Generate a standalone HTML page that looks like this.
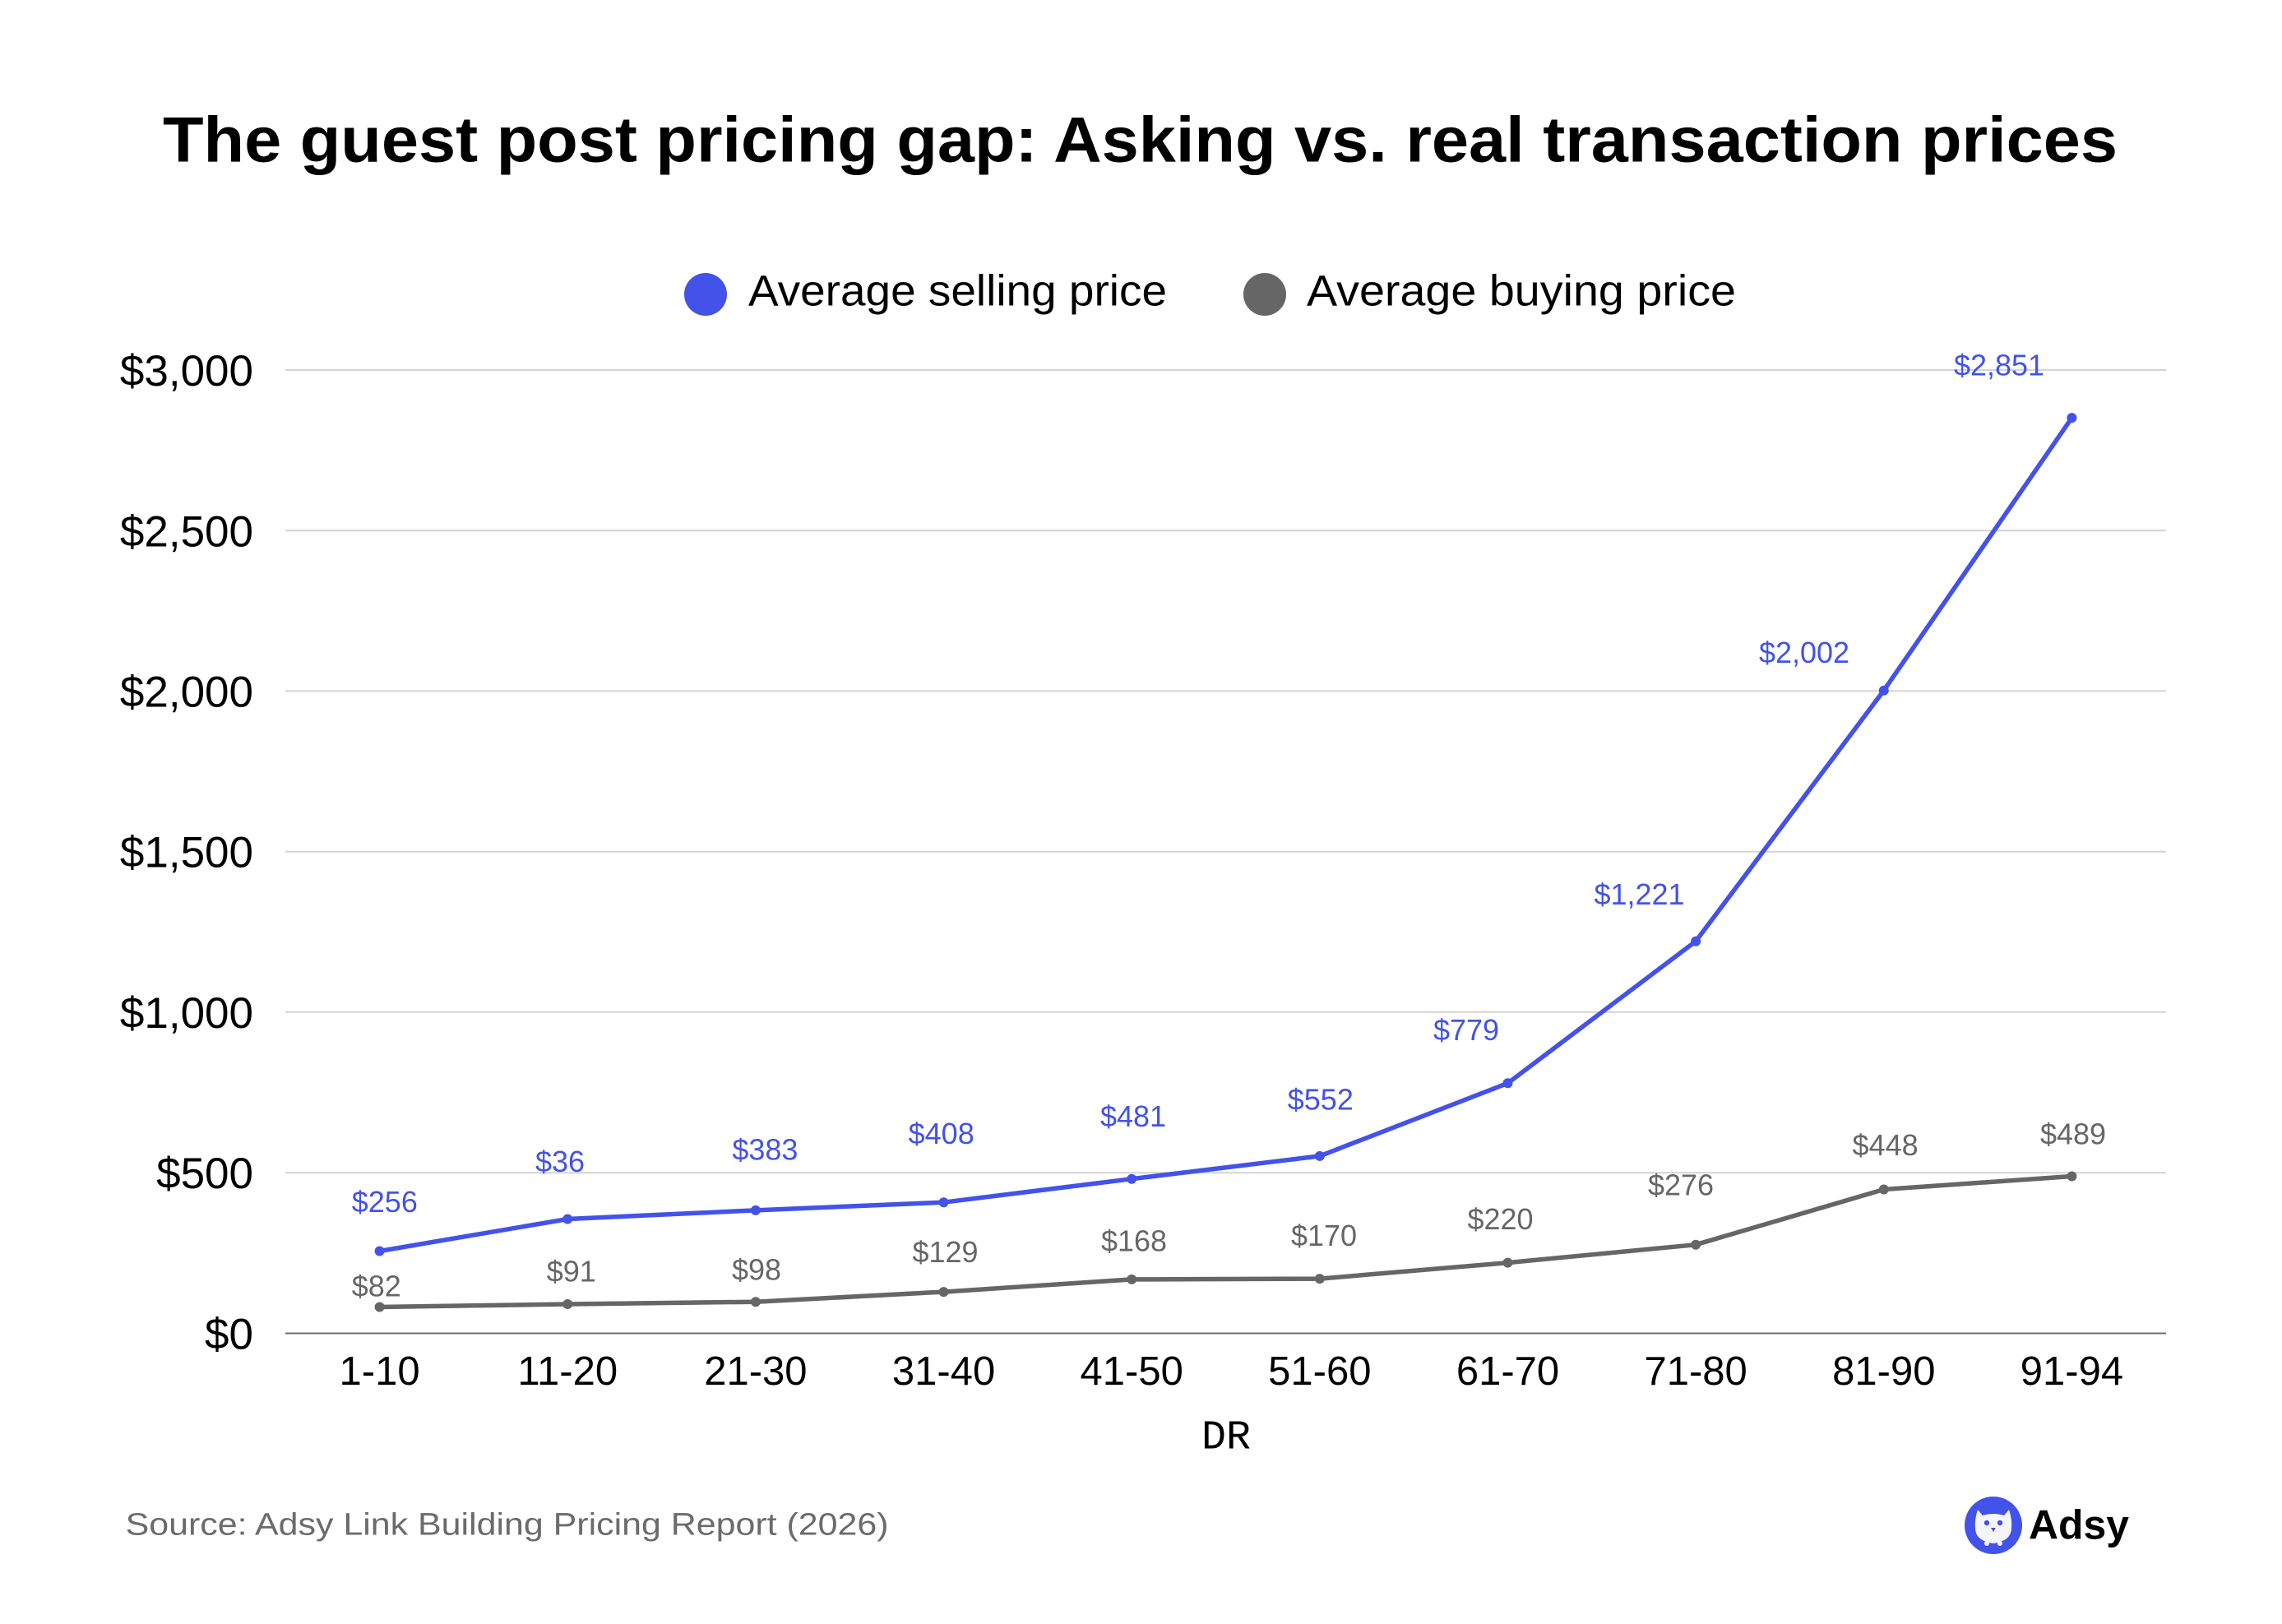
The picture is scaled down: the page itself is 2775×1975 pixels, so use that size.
<!DOCTYPE html>
<html>
<head>
<meta charset="utf-8">
<style>
html,body{margin:0;padding:0;background:#ffffff;}
svg{display:block;}
text{font-family:"Liberation Sans",sans-serif;}
</style>
</head>
<body>
<svg width="2775" height="1975" viewBox="0 0 2775 1975" xmlns="http://www.w3.org/2000/svg">
<rect x="0" y="0" width="2775" height="1975" fill="#ffffff"/>

<!-- Title -->
<text x="198" y="196.7" font-size="78" font-weight="bold" fill="#000" textLength="2377" lengthAdjust="spacingAndGlyphs">The guest post pricing gap: Asking vs. real transaction prices</text>

<!-- Legend -->
<circle cx="858" cy="358" r="26" fill="#4352E8"/>
<text x="910" y="371.7" font-size="53" fill="#000" textLength="509" lengthAdjust="spacingAndGlyphs">Average selling price</text>
<circle cx="1538" cy="358" r="26" fill="#666666"/>
<text x="1589" y="371.7" font-size="53" fill="#000" textLength="522" lengthAdjust="spacingAndGlyphs">Average buying price</text>

<!-- Gridlines -->
<g stroke="#d4d4d4" stroke-width="2">
<line x1="347" y1="450" x2="2634" y2="450"/>
<line x1="347" y1="645.3" x2="2634" y2="645.3"/>
<line x1="347" y1="840.4" x2="2634" y2="840.4"/>
<line x1="347" y1="1035.7" x2="2634" y2="1035.7"/>
<line x1="347" y1="1230.9" x2="2634" y2="1230.9"/>
<line x1="347" y1="1426.2" x2="2634" y2="1426.2"/>
</g>
<line x1="347" y1="1621.5" x2="2634" y2="1621.5" stroke="#6e6e6e" stroke-width="2"/>

<!-- Y axis labels -->
<g font-size="53" fill="#000" text-anchor="end">
<text x="308" y="469">$3,000</text>
<text x="308" y="664.3">$2,500</text>
<text x="308" y="859.4">$2,000</text>
<text x="308" y="1054.7">$1,500</text>
<text x="308" y="1249.9">$1,000</text>
<text x="308" y="1445.2">$500</text>
<text x="308" y="1640.5">$0</text>
</g>

<!-- X axis labels -->
<g font-size="49" fill="#000" text-anchor="middle">
<text x="461.6" y="1684">1-10</text>
<text x="690.25" y="1684">11-20</text>
<text x="918.9" y="1684">21-30</text>
<text x="1147.55" y="1684">31-40</text>
<text x="1376.2" y="1684">41-50</text>
<text x="1604.85" y="1684">51-60</text>
<text x="1833.5" y="1684">61-70</text>
<text x="2062.15" y="1684">71-80</text>
<text x="2290.8" y="1684">81-90</text>
<text x="2519.45" y="1684">91-94</text>
</g>
<text x="1491" y="1761.7" font-size="50" fill="#000" text-anchor="middle" style="font-family:'Liberation Mono',monospace">DR</text>

<!-- Buying line -->
<polyline fill="none" stroke="#666666" stroke-width="5.5" stroke-linejoin="round" stroke-linecap="round"
points="461.6,1589.5 690.25,1586 918.9,1583.2 1147.55,1571.1 1376.2,1555.9 1604.85,1555.1 1833.5,1535.6 2062.15,1513.7 2290.8,1446.5 2519.45,1430.5"/>
<g fill="#666666">
<circle cx="461.6" cy="1589.5" r="6"/>
<circle cx="690.25" cy="1586" r="6"/>
<circle cx="918.9" cy="1583.2" r="6"/>
<circle cx="1147.55" cy="1571.1" r="6"/>
<circle cx="1376.2" cy="1555.9" r="6"/>
<circle cx="1604.85" cy="1555.1" r="6"/>
<circle cx="1833.5" cy="1535.6" r="6"/>
<circle cx="2062.15" cy="1513.7" r="6"/>
<circle cx="2290.8" cy="1446.5" r="6"/>
<circle cx="2519.45" cy="1430.5" r="6"/>
</g>

<!-- Selling line -->
<polyline fill="none" stroke="#4352E8" stroke-width="5.5" stroke-linejoin="round" stroke-linecap="round"
points="461.6,1521.5 690.25,1482.5 918.9,1471.9 1147.55,1462.2 1376.2,1433.7 1604.85,1405.9 1833.5,1317.3 2062.15,1144.7 2290.8,839.7 2519.45,508.1"/>
<g fill="#4352E8">
<circle cx="461.6" cy="1521.5" r="6"/>
<circle cx="690.25" cy="1482.5" r="6"/>
<circle cx="918.9" cy="1471.9" r="6"/>
<circle cx="1147.55" cy="1462.2" r="6"/>
<circle cx="1376.2" cy="1433.7" r="6"/>
<circle cx="1604.85" cy="1405.9" r="6"/>
<circle cx="1833.5" cy="1317.3" r="6"/>
<circle cx="2062.15" cy="1144.7" r="6"/>
<circle cx="2290.8" cy="839.7" r="6"/>
<circle cx="2519.45" cy="508.1" r="6"/>
</g>

<!-- Selling labels -->
<g font-size="36" fill="#4352E8" text-anchor="middle">
<text x="467.8" y="1474">$256</text>
<text x="681" y="1425">$36</text>
<text x="930.4" y="1410.7">$383</text>
<text x="1144.7" y="1391">$408</text>
<text x="1378" y="1370">$481</text>
<text x="1605.8" y="1349.3">$552</text>
<text x="1783" y="1265">$779</text>
<text x="1993.5" y="1100">$1,221</text>
<text x="2194" y="806">$2,002</text>
<text x="2431" y="456.7">$2,851</text>
</g>

<!-- Buying labels -->
<g font-size="36" fill="#666666" text-anchor="middle">
<text x="457.8" y="1576.7">$82</text>
<text x="694.8" y="1558.3">$91</text>
<text x="920" y="1556.7">$98</text>
<text x="1149.5" y="1535">$129</text>
<text x="1379" y="1521.7">$168</text>
<text x="1610" y="1515">$170</text>
<text x="1824.5" y="1495">$220</text>
<text x="2044" y="1453.3">$276</text>
<text x="2292.6" y="1405">$448</text>
<text x="2521" y="1391.7">$489</text>
</g>

<!-- Source -->
<text x="152.6" y="1866.7" font-size="38" fill="#6b6b6b" textLength="928" lengthAdjust="spacingAndGlyphs">Source: Adsy Link Building Pricing Report (2026)</text>

<!-- Logo -->
<circle cx="2424" cy="1855" r="35" fill="#4352E8"/>
<g fill="#f4f5fb">
  <path d="M2405,1836 L2411,1843 Q2424,1839 2437,1843 L2443,1836 Q2447,1848 2446,1858 Q2446,1874 2424,1877 Q2402,1874 2402,1858 Q2401,1848 2405,1836 Z"/>
  <circle cx="2416" cy="1877" r="3"/>
  <circle cx="2432" cy="1877" r="3"/>
</g>
<circle cx="2416" cy="1852" r="3.2" fill="#4352E8"/>
<circle cx="2432" cy="1852" r="3.2" fill="#4352E8"/>
<path d="M2421,1858 L2427,1858 L2424,1863 Z" fill="#4352E8"/>
<text x="2467" y="1871.7" font-size="50" font-weight="bold" fill="#000" textLength="122" lengthAdjust="spacingAndGlyphs">Adsy</text>
</svg>
</body>
</html>
